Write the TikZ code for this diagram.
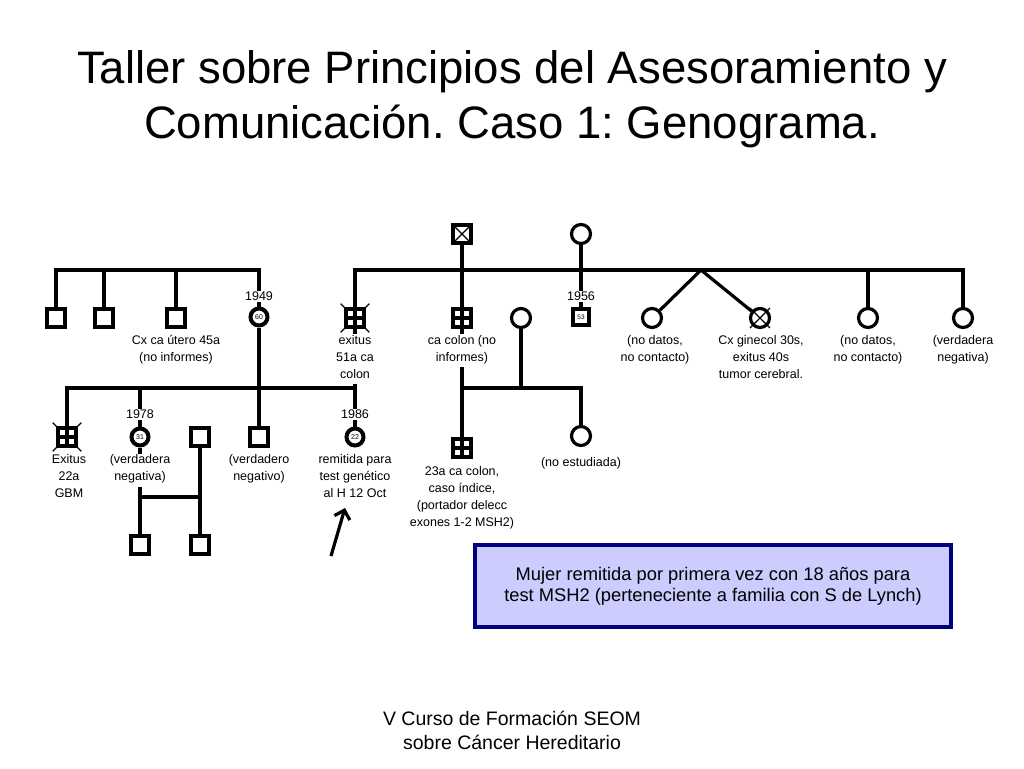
\documentclass[tikz,border=0pt]{standalone}
\usepackage{fontspec}
\setmainfont{Liberation Sans}
\usetikzlibrary{arrows.meta}
\definecolor{notefill}{RGB}{204,204,255}
\definecolor{noteline}{RGB}{0,0,128}
\pgfdeclarelayer{bg}
\pgfsetlayers{bg,main}
\frenchspacing
\begin{document}
\begin{tikzpicture}[x=1pt, y=-1pt, line width=3.2pt,
	sq/.style={draw, fill=white, line width=3.2pt, minimum size=18pt, inner sep=0pt},
	ci/.style={sq, circle, minimum size=19pt},
	quad/.style={sq, line width=3.6pt, path picture={\draw[line width=3.6pt] (path picture bounding box.north) -- (path picture bounding box.south) (path picture bounding box.west) -- (path picture bounding box.east);}},
	crossed/.style={sq, path picture={\draw[line width=1.2pt] (path picture bounding box.north west) -- (path picture bounding box.south east) (path picture bounding box.south west) -- (path picture bounding box.north east);}},
	agec/.style={ci, line width=4pt, minimum size=17pt, font=\fontsize{7}{8}\selectfont},
	ages/.style={sq, line width=4pt, minimum size=15.5pt, font=\fontsize{6.5}{8}\selectfont},
	txt/.style={fill=white, inner sep=1pt, align=center, font=\fontsize{12.5}{17}\selectfont},
	lab/.style={txt, anchor=north, execute at begin node=\strut},
	yr/.style={txt, anchor=base},
	tick/.style={line width=1.2pt, shorten <=-5pt, shorten >=-5pt}]
		\useasboundingbox (0,0) rectangle (1024,768);
		\node[font=\fontsize{45.5}{55}\selectfont, align=center] (tit) at (512,99) {Taller sobre Principios del Asesoramiento y\\Comunicación. Caso 1: Genograma.};
		
		\coordinate (sib) at (0,270);
		\coordinate (fam) at (0,388);
		\coordinate (hh) at (0,497);
		\coordinate (tw) at (701,270);
		
		\node[crossed] (g1) at (462,234) {};
		\node[ci] (g2) at (581,234) {};
		
		\node[sq] (a1) at (56,318) {};
		\node[sq] (a2) at (104,318) {};
		\node[sq] (a3) at (176,318) {};
		\node[agec] (a4) at (259,317) {60};
		
		\node[quad] (b1) at (355,318) {};
		\node[quad] (b2) at (462,318) {};
		\node[ci] (b3) at (521,318) {};
		\node[ages] (b4) at (581,317) {53};
		\node[ci] (b5) at (652,318) {};
		\node[ci] (b6) at (760,318) {};
		\node[ci] (b7) at (868,318) {};
		\node[ci] (b8) at (963,318) {};
		
		\node[quad] (c1) at (67,437) {};
		\node[agec] (c2) at (140,437) {31};
		\node[sq] (c3) at (200,437) {};
		\node[sq] (c4) at (259,437) {};
		\node[agec] (c5) at (355,437) {22};
		\node[quad] (c6) at (462,448) {};
		\node[ci] (c7) at (581,436) {};
		
		\node[sq] (d1) at (140,545) {};
		\node[sq] (d2) at (200,545) {};
		
		\node[yr] (y1) at (259,300.5) {1949};
		\node[yr] (y2) at (581,300.5) {1956};
		\node[yr] (y3) at (140,418.8) {1978};
		\node[yr] (y4) at (355,418.8) {1986};
		
		\node[lab] (la3) at (176,332.6) {Cx ca útero 45a\\(no informes)};
		\node[lab] (lb1) at (355,332.6) {exitus\\51a ca\\colon};
		\node[lab] (lb2) at (462,332.6) {ca colon (no\\informes)};
		\node[lab] (lb5) at (655,332.6) {(no datos,\\no contacto)};
		\node[lab] (lb6) at (761,332.6) {Cx ginecol 30s,\\exitus 40s\\tumor cerebral.};
		\node[lab] (lb7) at (868,332.6) {(no datos,\\no contacto)};
		\node[lab] (lb8) at (963,332.6) {(verdadera\\negativa)};
		\node[lab] (lc1) at (69,452.3) {Exitus\\22a\\GBM};
		\node[lab] (lc2) at (140,452.3) {(verdadera\\negativa)};
		\node[lab] (lc4) at (259,452.3) {(verdadero\\negativo)};
		\node[lab] (lc5) at (355,452.3) {remitida para\\test genético\\al H 12 Oct};
		\node[lab] (lc6) at (462,464.3) {23a ca colon,\\caso índice,\\(portador delecc\\exones 1-2 MSH2)};
		\node[lab] (lc7) at (581,452.3) {(no estudiada)};
		
		\begin{pgfonlayer}{bg}
			\fill[white] (0,0) rectangle (1024,768);
			\begin{scope}[line width=3.2pt]
				\draw (a1) -- (a1 |- sib) -| (a4);
				\draw (a2) -- (a2 |- sib);
				\draw (a3) -- (a3 |- sib);
				\draw (b1) |- (b8 |- sib) -- (b8);
				\draw (g1) -- (b2);
				\draw (g2) -- (b4);
				\draw (b7) -- (b7 |- sib);
				\draw (b5) -- (tw) -- (b6);
				\draw (a4) -- (c4);
				\draw (c1) |- (c5 |- fam);
				\draw (b1) -- (c5);
				\draw (c2) -- (c2 |- fam);
				\draw (b2) -- (c6);
				\draw (b3) -- (b3 |- fam);
				\draw (c6 |- fam) -| (c7);
				\draw (c2) -- (d1);
				\draw (c3) -- (d2);
				\draw (d1 |- hh) -- (d2 |- hh);
			\end{scope}
			\draw[tick] (b1.north west) -- (b1.south east);
			\draw[tick] (b1.south west) -- (b1.north east);
			\draw[tick] (c1.north west) -- (c1.south east);
			\draw[tick] (c1.south west) -- (c1.north east);
		\end{pgfonlayer}
		\draw[line width=1.2pt, shorten <=-3pt, shorten >=-3pt] (b6.north west) -- (b6.south east);
		\draw[line width=1.2pt, shorten <=-3pt, shorten >=-3pt] (b6.south west) -- (b6.north east);
		
		\coordinate (ar1) at (331,556);
		\coordinate (ar2) at (345,508);
		\draw[-{Straight Barb[length=8pt, width=16pt]}, line width=3.2pt] (ar1) -- (ar2);
		
		\node[draw=noteline, fill=notefill, line width=4pt, minimum width=476pt, minimum height=82pt, align=center, font=\fontsize{18.3}{21}\selectfont] (nota) at (713,586) {Mujer remitida por primera vez con 18 años para\\test MSH2 (perteneciente a familia con S de Lynch)};
		\node[font=\fontsize{19.5}{24}\selectfont, align=center] (pie) at (512,730) {V Curso de Formación SEOM\\sobre Cáncer Hereditario};
	\end{tikzpicture}
\end{document}
